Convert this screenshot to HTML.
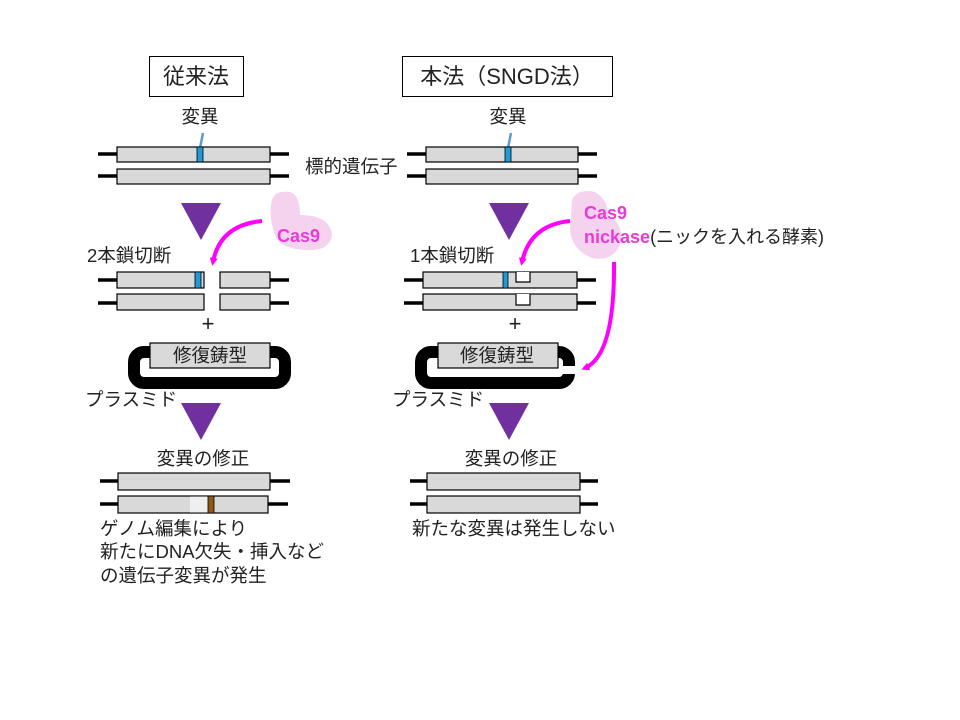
<!DOCTYPE html>
<html><head><meta charset="utf-8"><style>
body{margin:0;background:#fff}
svg{display:block}
text{font-family:"Liberation Sans","Noto Sans CJK JP",sans-serif;font-size:18.5px;fill:#222}
.b{fill:#d9d9d9;stroke:#000;stroke-width:1.2}
.l{stroke:#000;stroke-width:3.5}
.m{fill:#e83adb;font-weight:bold;font-size:18px}
</style></head><body>
<svg width="960" height="720" viewBox="0 0 960 720">
<defs><marker id="ah" markerWidth="8" markerHeight="8" refX="4" refY="4" orient="auto" markerUnits="userSpaceOnUse" viewBox="0 0 8 8"><path d="M0,0L8,4L0,8z" fill="#f0f"/></marker></defs>
<rect x="149.5" y="56.5" width="94" height="40" fill="#fff" stroke="#000"/>
<text x="196" y="84" text-anchor="middle" style="font-size:22px">従来法</text>
<rect x="402.5" y="56.5" width="210" height="40" fill="#fff" stroke="#000"/>
<text x="507" y="84" text-anchor="middle" style="font-size:22px">本法（SNGD法）</text>
<text x="200" y="123" text-anchor="middle">変異</text>
<line x1="203" y1="133" x2="200" y2="148" stroke="#5b9bd5" stroke-width="2.5"/>
<line class="l" x1="98" y1="154" x2="117" y2="154"/><line class="l" x1="270" y1="154" x2="289" y2="154"/>
<line class="l" x1="98" y1="176" x2="117" y2="176"/><line class="l" x1="270" y1="176" x2="289" y2="176"/>
<rect class="b" x="117" y="147" width="153" height="15"/><rect class="b" x="117" y="169" width="153" height="15"/>
<rect x="197" y="147" width="6" height="15" fill="#1f9bd8" stroke="#000" stroke-width="0.8"/>
<text x="508" y="123" text-anchor="middle">変異</text>
<line x1="511" y1="133" x2="508" y2="148" stroke="#5b9bd5" stroke-width="2.5"/>
<text x="305" y="173">標的遺伝子</text>
<line class="l" x1="407" y1="154" x2="426" y2="154"/><line class="l" x1="578" y1="154" x2="597" y2="154"/>
<line class="l" x1="407" y1="176" x2="426" y2="176"/><line class="l" x1="578" y1="176" x2="597" y2="176"/>
<rect class="b" x="426" y="147" width="152" height="15"/><rect class="b" x="426" y="169" width="152" height="15"/>
<rect x="505" y="147" width="6" height="15" fill="#1f9bd8" stroke="#000" stroke-width="0.8"/>
<path d="M181,203L221,203L201,240z" fill="#7030a0"/>
<path d="M489,203L529,203L509,240z" fill="#7030a0"/>
<path d="M181,403L221,403L201,440z" fill="#7030a0"/>
<path d="M489,403L529,403L509,440z" fill="#7030a0"/>
<path d="M272,200 Q275,190 290,192 Q300,195 300,215 Q330,215 332,235 Q330,250 310,250 Q280,250 275,235 Q268,215 272,200z" fill="#f5d3ef"/>
<text x="277" y="242" class="m">Cas9</text>
<path d="M262,221 Q220,225 213,262" fill="none" stroke="#f0f" stroke-width="4" marker-end="url(#ah)"/>
<path d="M572,200 Q578,188 595,192 Q608,200 608,215 Q625,225 620,245 Q612,262 592,258 Q572,250 570,230z" fill="#f5d3ef"/>
<text x="584" y="219" class="m">Cas9</text>
<text x="584" y="243" class="m">nickase<tspan style="fill:#222;font-weight:normal">(ニックを入れる酵素)</tspan></text>
<path d="M570,221 Q530,225 522,262" fill="none" stroke="#f0f" stroke-width="4" marker-end="url(#ah)"/>
<path d="M614,262 Q615,355 585,368" fill="none" stroke="#f0f" stroke-width="4" marker-end="url(#ah)"/>
<text x="87" y="262">2本鎖切断</text>
<line class="l" x1="98" y1="280" x2="117" y2="280"/><line class="l" x1="270" y1="280" x2="289" y2="280"/>
<line class="l" x1="98" y1="303" x2="117" y2="303"/><line class="l" x1="270" y1="303" x2="289" y2="303"/>
<rect class="b" x="117" y="272" width="87" height="16"/><rect class="b" x="220" y="272" width="50" height="16"/>
<rect class="b" x="117" y="294" width="87" height="16"/><rect class="b" x="220" y="294" width="50" height="16"/>
<rect x="195" y="272" width="6" height="16" fill="#1f9bd8" stroke="#000" stroke-width="0.8"/>
<text x="208" y="331" text-anchor="middle" style="font-size:22px">+</text>
<text x="410" y="262">1本鎖切断</text>
<line class="l" x1="404" y1="280" x2="423" y2="280"/><line class="l" x1="577" y1="280" x2="596" y2="280"/>
<line class="l" x1="404" y1="303" x2="423" y2="303"/><line class="l" x1="577" y1="303" x2="596" y2="303"/>
<rect class="b" x="423" y="272" width="154" height="16"/><rect class="b" x="423" y="294" width="154" height="16"/>
<rect x="503" y="272" width="5" height="16" fill="#1f9bd8" stroke="#000" stroke-width="0.8"/>
<path d="M516,272V282H530V272" fill="#fff" stroke="#000" stroke-width="1.2"/>
<path d="M516,294V305H530V294" fill="#fff" stroke="#000" stroke-width="1.2"/>
<text x="515" y="331" text-anchor="middle" style="font-size:22px">+</text>
<rect x="134" y="352" width="151" height="31" rx="10" fill="none" stroke="#000" stroke-width="12"/>
<rect x="143" y="366" width="132" height="8" fill="#fff"/>
<rect class="b" x="150" y="343" width="120" height="25"/>
<text x="210" y="362" text-anchor="middle">修復鋳型</text>
<text x="85" y="406">プラスミド</text>
<rect x="421" y="352" width="148" height="31" rx="10" fill="none" stroke="#000" stroke-width="12"/>
<rect x="430" y="366" width="132" height="8" fill="#fff"/>
<rect x="560" y="366" width="16" height="8" fill="#fff"/>
<rect class="b" x="438" y="343" width="120" height="25"/>
<text x="497" y="362" text-anchor="middle">修復鋳型</text>
<text x="392" y="406">プラスミド</text>
<text x="203" y="465" text-anchor="middle">変異の修正</text>
<line class="l" x1="100" y1="481" x2="118" y2="481"/><line class="l" x1="270" y1="481" x2="290" y2="481"/>
<line class="l" x1="100" y1="504" x2="118" y2="504"/><line class="l" x1="268" y1="504" x2="288" y2="504"/>
<rect class="b" x="118" y="473" width="152" height="17"/>
<rect class="b" x="118" y="496" width="150" height="17"/>
<rect x="190" y="496.5" width="18" height="16" fill="#efefef"/>
<rect x="208" y="496" width="6" height="17" fill="#8b5a1a" stroke="#000" stroke-width="0.8"/>
<text x="100" y="535">ゲノム編集により</text>
<text x="100" y="558">新たにDNA欠失・挿入など</text>
<text x="100" y="582">の遺伝子変異が発生</text>
<text x="511" y="465" text-anchor="middle">変異の修正</text>
<line class="l" x1="410" y1="481" x2="427" y2="481"/><line class="l" x1="580" y1="481" x2="598" y2="481"/>
<line class="l" x1="410" y1="504" x2="427" y2="504"/><line class="l" x1="580" y1="504" x2="598" y2="504"/>
<rect class="b" x="427" y="473" width="153" height="17"/><rect class="b" x="427" y="496" width="153" height="17"/>
<text x="412" y="535">新たな変異は発生しない</text>
</svg>
</body></html>
